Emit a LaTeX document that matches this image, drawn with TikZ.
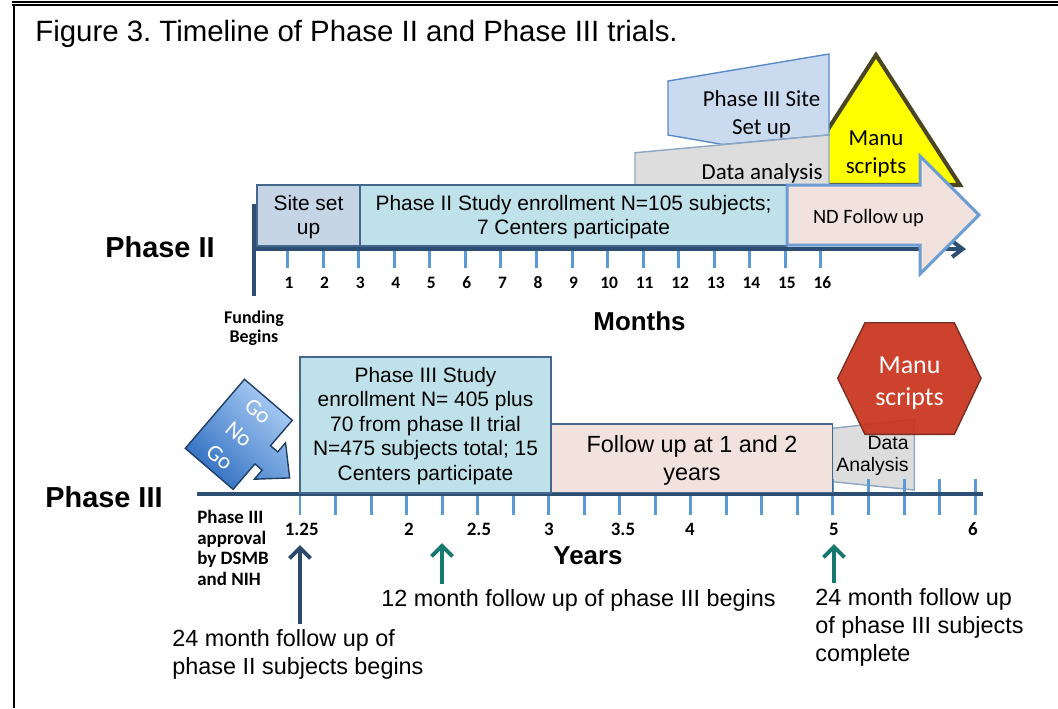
\documentclass[tikz,border=0pt]{standalone}
\usepackage{fontspec}
\setmainfont{Liberation Sans}
\newfontfamily\calfont{Carlito}
\usetikzlibrary{arrows.meta}
\frenchspacing
\newdimen\pxu \pxu=0.5669pt
\newcommand\fpx[2]{\fontsize{#1\pxu}{#2\pxu}\selectfont}
\definecolor{axisc}{HTML}{2D4F74}
\definecolor{tickc}{HTML}{5B9BD5}
\definecolor{edgec}{HTML}{46678C}
\definecolor{siteblue}{HTML}{C6D5E6}
\definecolor{cyanfill}{HTML}{BFE1E9}
\definecolor{pinkfill}{HTML}{F2E2DE}
\definecolor{greyfill}{HTML}{DDDDDD}
\definecolor{greyedge}{HTML}{8DA6C4}
\definecolor{p3site}{HTML}{CADBF0}
\definecolor{p3edge}{HTML}{5A8AC6}
\definecolor{ndedge}{HTML}{6B9DD3}
\definecolor{yellowc}{HTML}{FFFF00}
\definecolor{olivec}{HTML}{4B4622}
\definecolor{hexred}{HTML}{C8321C}
\definecolor{hexedge}{HTML}{7B2E24}
\definecolor{golight}{HTML}{ABCDF5}
\definecolor{godark}{HTML}{2F6EC0}
\definecolor{goedge}{HTML}{1F3F66}
\definecolor{tealc}{HTML}{17786F}
\definecolor{navyc}{HTML}{2B4A6B}
\begin{document}
\begin{tikzpicture}[x=0.02cm, y=-0.02cm,
  axisline/.style={draw=axisc, line width=2.3pt},
  tickmark/.style={draw=tickc, line width=1.7pt},
  panel/.style={draw=edgec, line width=0.8pt},
  txt/.style={inner sep=0pt, align=center, text=black},
  ticklbl/.style={inner sep=0pt, font=\calfont\bfseries\fpx{17.5}{19}},
  yrlbl/.style={inner sep=0pt, font=\calfont\bfseries\fpx{19}{21}},
  phaselbl/.style={inner sep=0pt, font=\bfseries\fpx{29}{32}},
  unitlbl/.style={inner sep=0pt, font=\bfseries\fpx{26}{30}},
  pointer/.style={line width=2.3pt, -{Straight Barb[length=6pt,width=12pt,line width=2.3pt]}},
  note/.style={inner sep=0pt, font=\fpx{23.5}{28}}]
\useasboundingbox (0,0) rectangle (1058,708);
\fill[white] (0,0) rectangle (1058,708);

% frame of the figure
\draw[line width=1pt] (12,1.7) -- (1058,1.7);
\draw[line width=1pt] (12,5) -- (1058,5);
\draw[line width=1.1pt] (13.8,5) -- (13.8,708);

\node[anchor=base west, inner sep=0pt, font=\fpx{29.5}{32}] (title) at (35,41)
  {Figure 3. Timeline of Phase II and Phase III trials.};

% ---------------- Phase II ----------------
\draw[fill=yellowc, draw=olivec, line width=2.3pt] (876,55) -- (960,185) -- (792,185) -- cycle;
\draw[fill=p3site, draw=p3edge, line width=0.8pt]
  (668,81) -- (829,54) -- (829,135) -- (723,144.5) -- (668,135) -- cycle;
\draw[fill=greyfill, draw=greyedge, line width=0.8pt]
  (635,185) -- (635,152.7) -- (829,135) -- (829,185) -- cycle;

\foreach \k in {1,...,16} \draw[tickmark] ({252+35.56*\k},249) -- ({252+35.56*\k},268);
\coordinate (m0) at (254,249);
\coordinate (mend) at (966,249);
\draw[axisline, -{Straight Barb[length=6pt,width=9pt,line width=2.3pt]}] (m0) -- (mend);
\draw[axisline, line width=1.8pt] (254,204) -- (254,296);

\draw[panel, fill=siteblue] (257,185) rectangle (360,246);
\draw[panel, fill=cyanfill] (360,185) rectangle (787,246);
\draw[fill=pinkfill, draw=ndedge, line width=1.7pt]
  (787,185) -- (920,185) -- (920,156) -- (979,215) -- (920,274) -- (920,245) -- (787,245) -- cycle;

\node[txt, font=\fpx{21}{24.3}] (site) at (308.5,217) {Site set\\up};
\node[txt, font=\fpx{21}{24.3}] (enr2) at (573.5,217) {Phase II Study enrollment N=105 subjects;\\7 Centers participate};
\node[txt, font=\calfont\fpx{23}{28}] (p3setup) at (761.5,114) {Phase III Site\\Set up};
\node[anchor=east, inner sep=0pt, font=\calfont\fpx{23}{28}] (da2) at (823,173) {Data analysis};
\node[txt, font=\calfont\fpx{23}{28}] (manu2) at (876,154) {Manu\\scripts};
\node[txt, font=\calfont\fpx{20.5}{24}] (nd) at (868.5,218) {ND Follow up};

\foreach \k in {1,...,16} \node[ticklbl] (mt\k) at ({253.5+35.56*\k},283) {\k};
\node[phaselbl] (ph2) at (160,247) {Phase II};
\node[txt, font=\calfont\bfseries\fpx{18}{19}] (fund) at (254,328.5) {Funding\\Begins};
\node[unitlbl] (months) at (639.5,321) {Months};

% ---------------- Phase III ----------------
\draw[fill=greyfill, draw=greyedge, line width=0.8pt]
  (832.5,428.3) -- (914.3,419.3) -- (914.3,490) -- (832.5,481.7) -- cycle;
\foreach \j in {0,...,19} \draw[tickmark] ({300+35.53*\j},479) -- ({300+35.53*\j},515);
\coordinate (y0) at (197,494);
\coordinate (yend) at (983,494);
\draw[axisline] (y0) -- (yend);

\draw[panel, fill=cyanfill] (300,357) rectangle (551,493);
\draw[panel, fill=pinkfill] (551,424) rectangle (832.7,492.5);
\draw[fill=hexred, fill opacity=0.92, draw=hexedge, line width=0.8pt]
  (865,322.7) -- (954.3,322.7) -- (981,378.3) -- (954.3,434.3) -- (865,434.3) -- (837.7,378.3) -- cycle;

% go / no-go callout arrow
\begin{scope}[shift={(238.8,434.3)}, x={(0.01519cm,-0.01301cm)}, y={(0.01301cm,0.01519cm)}]
  \path[draw=goedge, line width=0.8pt, top color=golight, bottom color=godark, shading angle=-45]
    (-31.5,45.5) -- (31.5,45.5) -- (31.5,12) -- (41,12) -- (41,24) -- (67,0)
    -- (41,-24) -- (41,-12) -- (31.5,-12) -- (31.5,-45.5) -- (-31.5,-45.5) -- cycle;
\end{scope}
\node[txt, text=white, rotate=-40, font=\calfont\fpx{23}{30}] (gonogo) at (238.8,434.3) {Go\\No\\Go};

\node[txt, font=\fpx{21}{24.6}] (enr3) at (425.5,426)
  {Phase III Study\\enrollment N= 405 plus\\70 from phase II trial\\N=475 subjects total; 15\\Centers participate};
\node[txt, font=\fpx{23.5}{28}] (fu) at (692,460) {Follow up at 1 and 2\\years};
\node[anchor=east, inner sep=0pt, align=right, font=\fpx{19.5}{21.7}] (da3) at (909,456) {Data\\Analysis};
\node[txt, text=white, font=\calfont\fpx{26}{32}] (manu3) at (909.5,383) {Manu\\scripts};

\node[yrlbl] (y125) at (301.7,529) {1.25};
\node[yrlbl] (y2) at (409,529) {2};
\node[yrlbl] (y25) at (479,529) {2.5};
\node[yrlbl] (y3) at (549,529) {3};
\node[yrlbl] (y35) at (623,529) {3.5};
\node[yrlbl] (y4) at (690,529) {4};
\node[yrlbl] (y5) at (834,529) {5};
\node[yrlbl] (y6) at (973,529) {6};

\node[phaselbl] (ph3) at (104,497) {Phase III};
\node[anchor=west, inner sep=0pt, align=left, font=\calfont\bfseries\fpx{19}{20.7}] (appr) at (197,548)
  {Phase III\\approval\\by DSMB\\and NIH};
\node[unitlbl] (years) at (588,556) {Years};

% markers below the year axis
\coordinate (a1s) at (300,624);
\coordinate (a1e) at (300,545);
\coordinate (a2s) at (442,584);
\coordinate (a2e) at (442,543);
\coordinate (a3s) at (834,583);
\coordinate (a3e) at (834,544);
\draw[pointer, navyc] (a1s) -- (a1e);
\draw[pointer, tealc] (a2s) -- (a2e);
\draw[pointer, tealc] (a3s) -- (a3e);

\node[note] (n12) at (578.5,600) {12 month follow up of phase III begins};
\node[note, anchor=north west, align=left] (n24b) at (815,588) {24 month follow up\\of phase III subjects\\complete};
\node[note, anchor=north west, align=left] (n24a) at (172,629) {24 month follow up of\\phase II subjects begins};
\end{tikzpicture}
\end{document}
